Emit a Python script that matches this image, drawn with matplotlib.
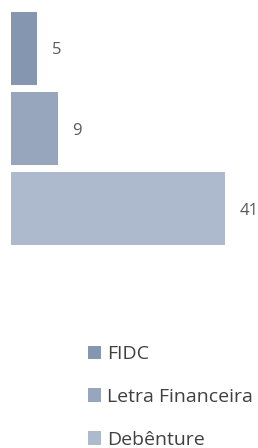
import matplotlib
matplotlib.use("Agg")
import matplotlib.pyplot as plt
from matplotlib.patches import Patch

plt.rcParams['font.family'] = ['Open Sans', 'DejaVu Sans']

categories = ['FIDC', 'Letra Financeira', 'Debênture']
values = [5, 9, 41]
colors = ['#8496b0', '#97a6bd', '#adb9cc']

fig = plt.figure(figsize=(2.58, 4.48), dpi=100)
ax = fig.add_axes([11 / 258, 1 - 249 / 448, 247 / 258, 241 / 448])

pos = list(range(len(categories)))
ax.barh(pos, values, height=0.91, color=colors)
for p, v in zip(pos, values):
    ax.annotate(str(v), (v, p), xytext=(10.5, -1.5), textcoords='offset points',
                va='center', ha='left', fontsize=12, color='#595959')

ax.set_xlim(0, 47.3)
ax.set_ylim(2.5, -0.5)
ax.axis('off')

handles = [Patch(facecolor=c, edgecolor='none') for c in colors]
fig.legend(handles, categories, loc='upper left', bbox_to_anchor=(88 / 258, 1 - 345 / 448),
           frameon=False, fontsize=14, labelcolor='#404040',
           handlelength=0.68, handleheight=0.68, handletextpad=0.3,
           labelspacing=1.28, borderaxespad=0, borderpad=0)

fig.savefig('out.png', dpi=100)
